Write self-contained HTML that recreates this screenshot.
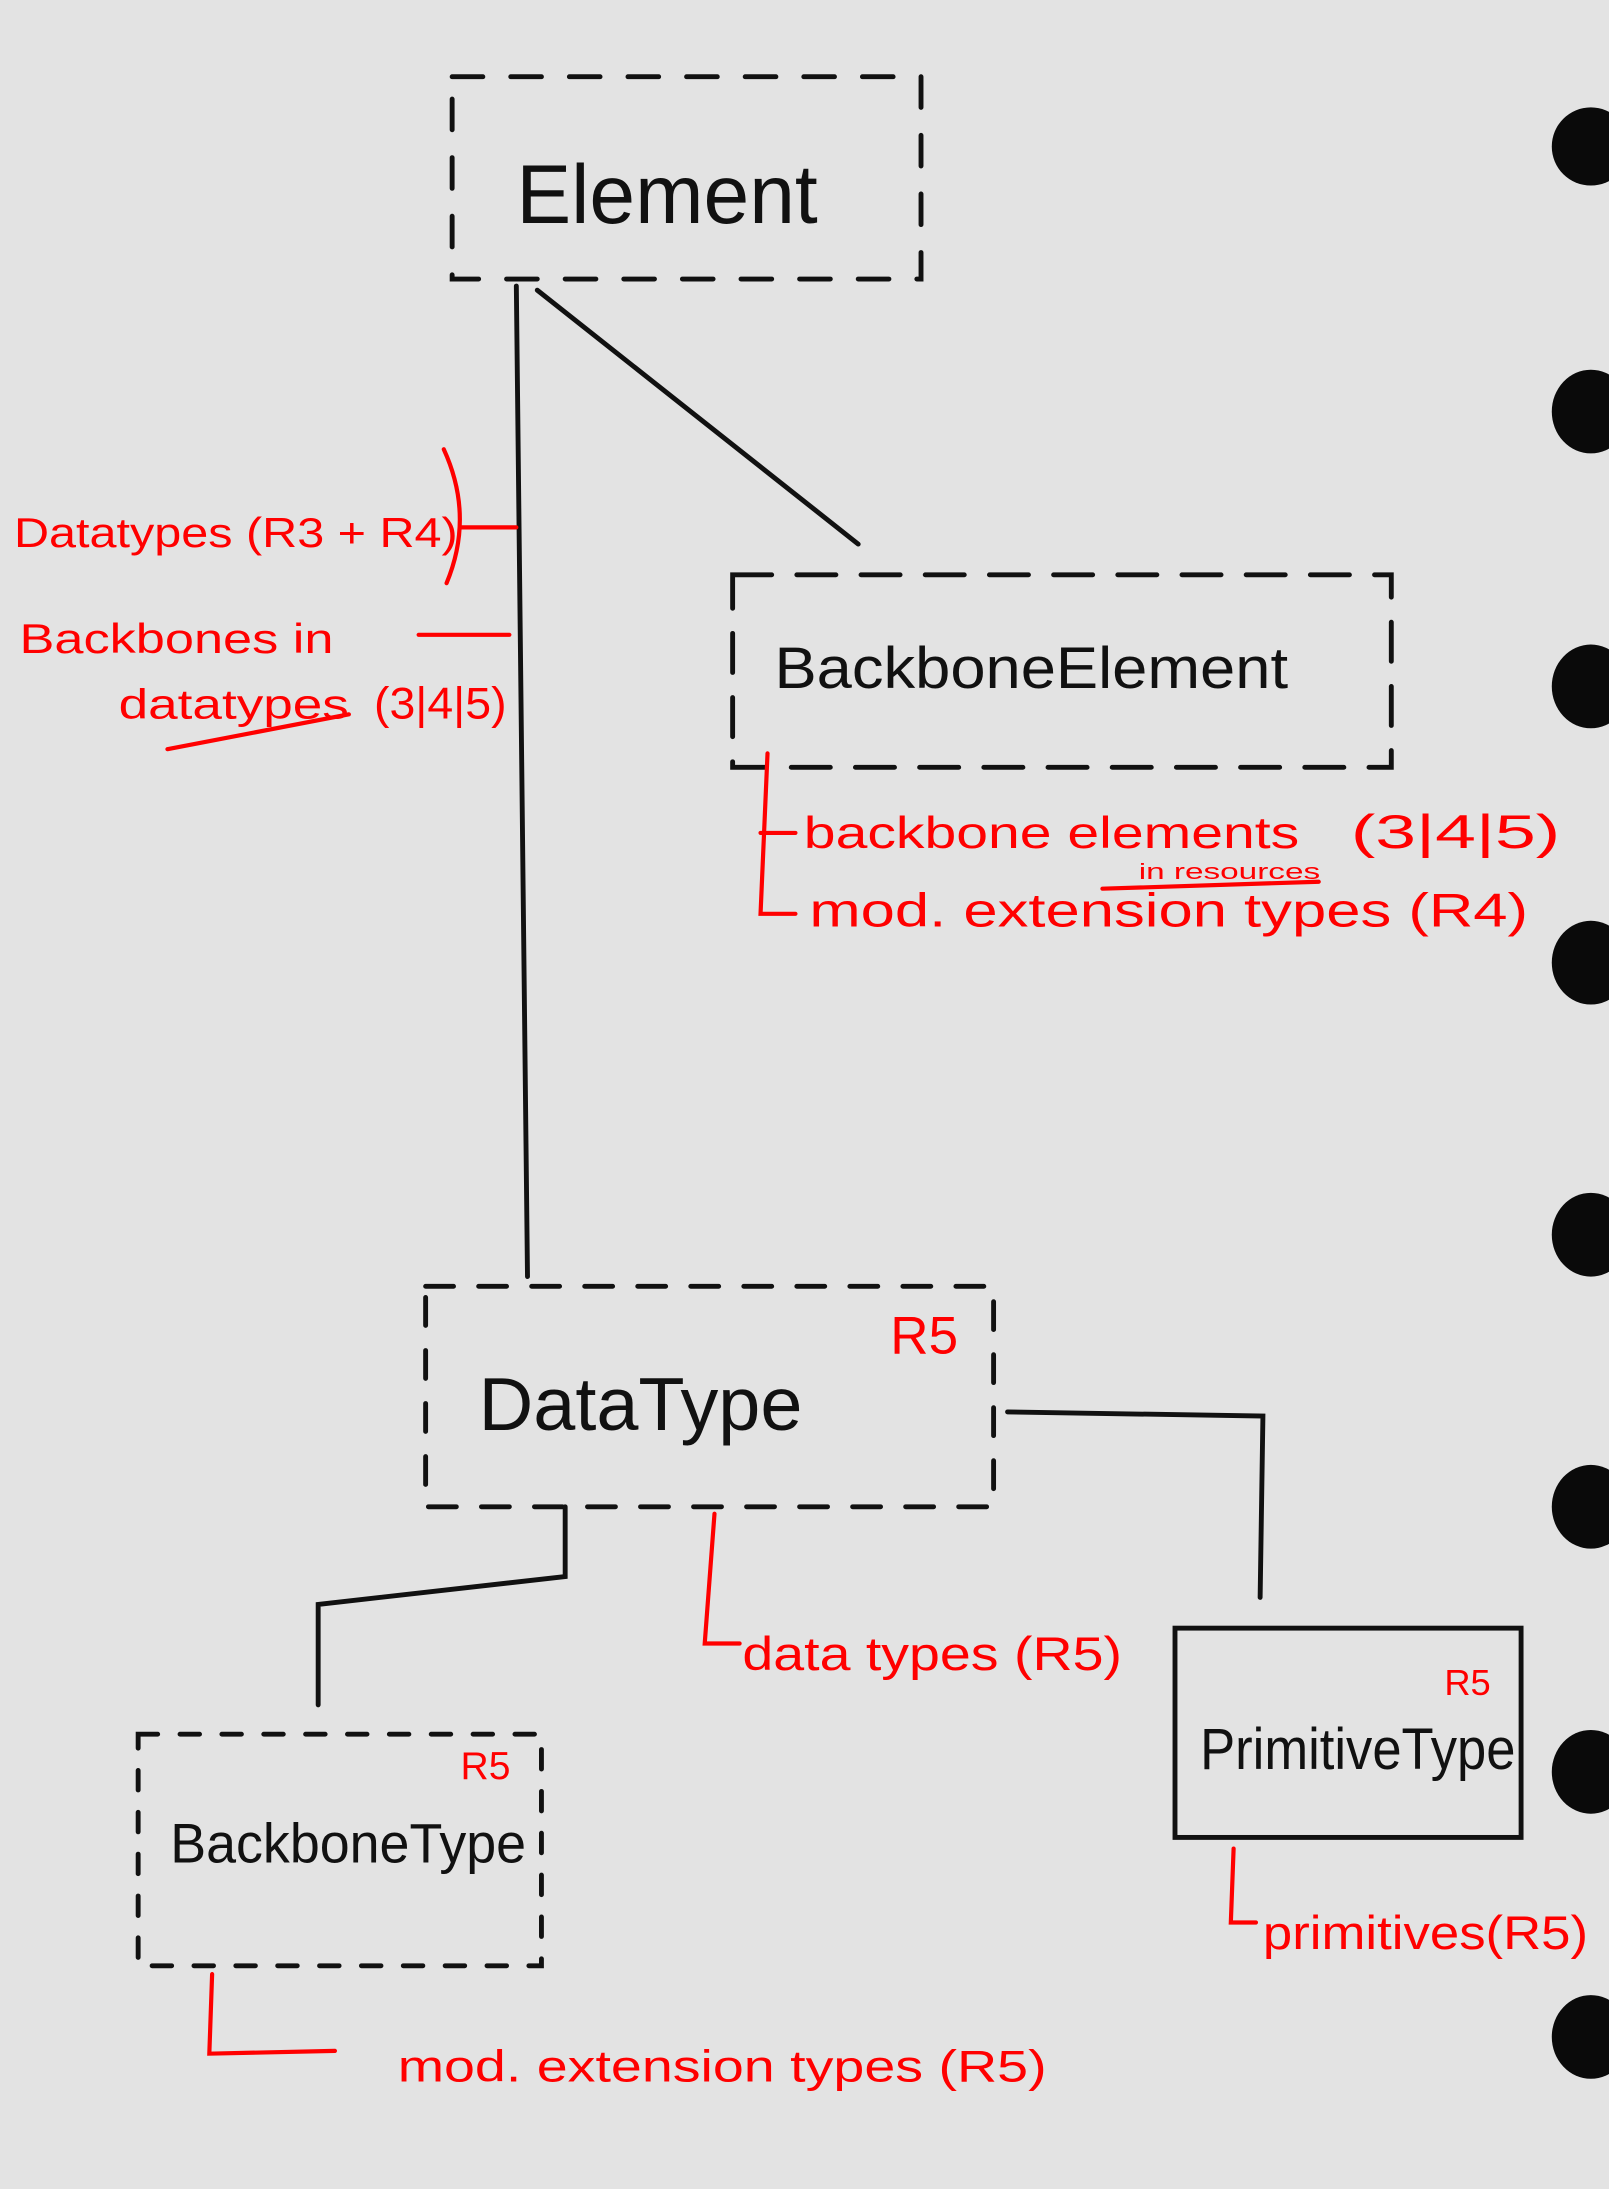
<!DOCTYPE html>
<html><head><meta charset="utf-8"><style>
html,body{margin:0;padding:0;background:#e3e3e3;}
svg{display:block;}
text{font-family:"Liberation Sans",sans-serif;}
</style></head><body>
<svg width="1609" height="2189" viewBox="0 0 1153 1569" preserveAspectRatio="none" xmlns="http://www.w3.org/2000/svg">
<rect width="1153" height="1569" fill="#e3e3e3"/>
<g fill="#0a0a0a">
<ellipse cx="1140" cy="105" rx="28" ry="28"/>
<ellipse cx="1140" cy="295" rx="28" ry="30"/>
<ellipse cx="1140" cy="492" rx="28" ry="30"/>
<ellipse cx="1140" cy="690" rx="28" ry="30"/>
<ellipse cx="1140" cy="885" rx="28" ry="30"/>
<ellipse cx="1140" cy="1080" rx="28" ry="30"/>
<ellipse cx="1140" cy="1270" rx="28" ry="30"/>
<ellipse cx="1140" cy="1460" rx="28" ry="30"/>
</g>
<g fill="none" stroke="#111" stroke-width="3.5" stroke-linecap="round">
<rect x="324" y="55" width="336" height="145" stroke-dasharray="22,20"/>
<line x1="370" y1="205" x2="378" y2="915"/>
<line x1="385" y1="208" x2="615" y2="390"/>
<rect x="525" y="412" width="472" height="138" stroke-dasharray="28,18"/>
<rect x="305" y="922" width="407" height="158" stroke-dasharray="20,18"/>
<polyline points="722,1012 905,1015 903,1145"/>
<polyline points="405,1080 405,1130 228,1150 228,1222"/>
<rect x="99" y="1243" width="289" height="166" stroke-dasharray="14,16"/>
<rect x="842" y="1167" width="248" height="150"/>
</g>
<g fill="#111">
<text x="370" y="160" font-size="60" textLength="216" lengthAdjust="spacingAndGlyphs">Element</text>
<text x="555" y="493" font-size="42" textLength="368" lengthAdjust="spacingAndGlyphs">BackboneElement</text>
<text x="343" y="1025" font-size="54" textLength="232" lengthAdjust="spacingAndGlyphs">DataType</text>
<text x="122" y="1335" font-size="40" textLength="255" lengthAdjust="spacingAndGlyphs">BackboneType</text>
<text x="860" y="1268" font-size="42" textLength="226" lengthAdjust="spacingAndGlyphs">PrimitiveType</text>
</g>
<g fill="none" stroke="#f00" stroke-width="3" stroke-linecap="round">
<line x1="330" y1="378" x2="370" y2="378"/>
<path d="M318,322 Q340,370 320,418"/>
<line x1="300" y1="455" x2="365" y2="455"/>
<line x1="120" y1="537" x2="250" y2="512"/>
<polyline points="550,540 545,655 570,655"/>
<line x1="545" y1="597" x2="570" y2="597"/>
<line x1="790" y1="637" x2="945" y2="632"/>
<polyline points="512,1085 505,1178 530,1178"/>
<polyline points="152,1415 150,1472 240,1470"/>
<polyline points="884,1325 882,1378 900,1378"/>
</g>
<g fill="#f00">
<text x="10" y="392" font-size="30" textLength="318" lengthAdjust="spacingAndGlyphs">Datatypes (R3 + R4)</text>
<text x="14" y="468" font-size="30" textLength="225" lengthAdjust="spacingAndGlyphs">Backbones in</text>
<text x="85" y="515" font-size="30" textLength="165" lengthAdjust="spacingAndGlyphs">datatypes</text>
<text x="268" y="515" font-size="32" textLength="95" lengthAdjust="spacingAndGlyphs">(3|4|5)</text>
<text x="576" y="608" font-size="32" textLength="355" lengthAdjust="spacingAndGlyphs">backbone elements</text>
<text x="968" y="608" font-size="34" textLength="150" lengthAdjust="spacingAndGlyphs">(3|4|5)</text>
<text x="816" y="630" font-size="16" textLength="130" lengthAdjust="spacingAndGlyphs">in resources</text>
<text x="580" y="664" font-size="34" textLength="515" lengthAdjust="spacingAndGlyphs">mod. extension types (R4)</text>
<text x="638" y="970" font-size="38">R5</text>
<text x="532" y="1197" font-size="34" textLength="272" lengthAdjust="spacingAndGlyphs">data types (R5)</text>
<text x="330" y="1275" font-size="28">R5</text>
<text x="1035" y="1215" font-size="26">R5</text>
<text x="905" y="1397" font-size="34" textLength="233" lengthAdjust="spacingAndGlyphs">primitives(R5)</text>
<text x="285" y="1492" font-size="32" textLength="465" lengthAdjust="spacingAndGlyphs">mod. extension types (R5)</text>
</g>
</svg>
</body></html>
